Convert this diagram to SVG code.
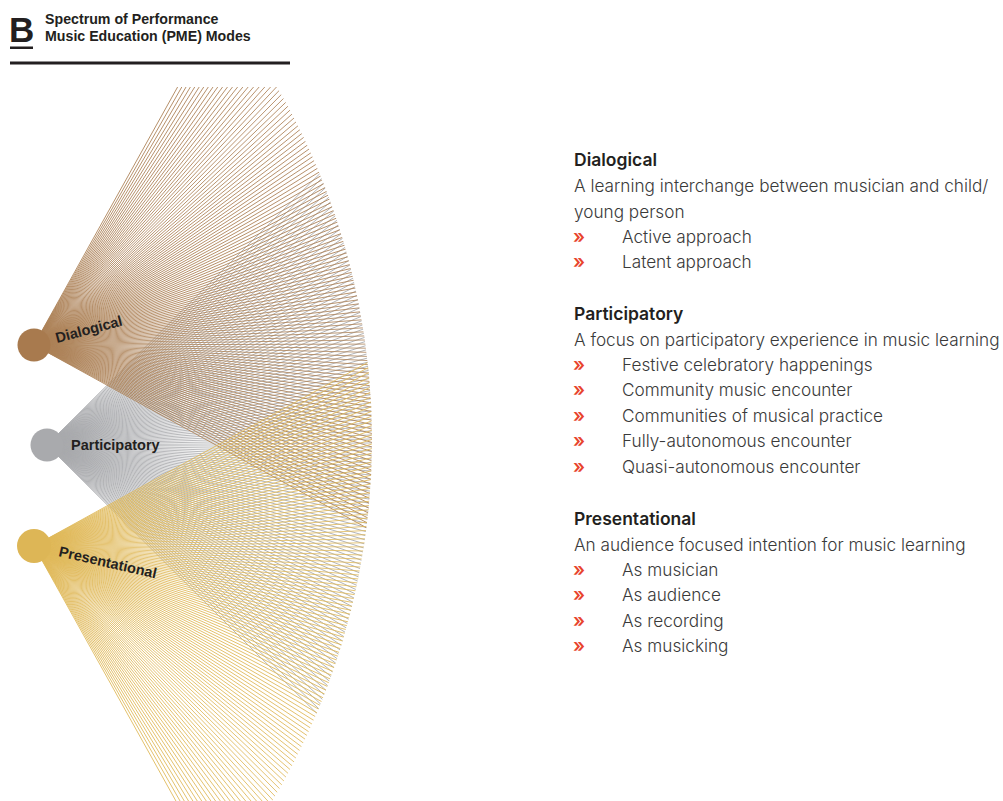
<svg xmlns="http://www.w3.org/2000/svg" xmlns:xlink="http://www.w3.org/1999/xlink" width="1003" height="801" viewBox="0 0 1003 801">
<style>
.title{font-family:"Liberation Sans",Arial,sans-serif;font-weight:bold;font-size:14.2px;fill:#231f20}
.lbl{font-family:"Liberation Sans",Arial,sans-serif;font-weight:bold;font-size:14.5px;fill:#231f20}
.h{font-family:Inter,"Liberation Sans",sans-serif;font-weight:600;font-size:17.5px;fill:#231f20}
.t{font-family:Inter,"Liberation Sans",sans-serif;font-weight:300;font-size:17.2px;fill:#3a3a3a}
.bul{font-family:Inter,"Liberation Sans",sans-serif;font-weight:600;font-size:19px;fill:#e8452e}
.ray{stroke-width:0.8;fill:none}
</style>
<defs>
<line id="r" x1="0" y1="0" x2="520" y2="0"/>
<g id="f2"><use href="#r"/><use href="#r" transform="rotate(0.7063)"/></g>
<g id="f4"><use href="#f2"/><use href="#f2" transform="rotate(1.4126)"/></g>
<g id="f8"><use href="#f4"/><use href="#f4" transform="rotate(2.8252)"/></g>
<g id="f16"><use href="#f8"/><use href="#f8" transform="rotate(5.6504)"/></g>
<g id="f32"><use href="#f16"/><use href="#f16" transform="rotate(11.3008)"/></g>
<g id="f64"><use href="#f32"/><use href="#f32" transform="rotate(22.6016)"/></g>
<g id="fan"><use href="#f64"/><use href="#f64" transform="rotate(45.2031)"/></g>
<clipPath id="arc"><circle cx="-331" cy="440" r="703"/></clipPath>
<clipPath id="box"><rect x="0" y="87" width="1003" height="714"/></clipPath>
</defs>
<rect width="1003" height="801" fill="#ffffff"/>

<g id="header">
<text x="9" y="42" font-family="Liberation Sans,Arial,sans-serif" font-weight="bold" font-size="35" fill="#231f20">B</text>
<rect x="10" y="46.5" width="23" height="2.5" fill="#231f20"/>
<text class="title" x="45" y="24">Spectrum of Performance</text>
<text class="title" x="45" y="41">Music Education (PME) Modes</text>
<rect x="10" y="61.5" width="280" height="3" fill="#231f20"/>
</g>

<g id="connectors" clip-path="url(#box)">
<g clip-path="url(#arc)">
<use href="#fan" class="ray" stroke="#a9aaad" transform="translate(47 445) rotate(-44.85)"/>
<use href="#fan" class="ray" stroke="#ad8258" transform="translate(34 345) rotate(-60.9)"/>
<use href="#fan" class="ray" stroke="#e0b95a" transform="translate(34 546) rotate(-28.8)"/>
</g>
</g>

<g id="node-dialogical">
<circle cx="34" cy="345" r="16.5" fill="#a87a4e"/>
<text class="lbl" transform="translate(57 343) rotate(-15)">Dialogical</text>
</g>
<g id="node-participatory">
<circle cx="47" cy="445" r="16.5" fill="#a9aaad"/>
<text class="lbl" x="71" y="450">Participatory</text>
</g>
<g id="node-presentational">
<circle cx="34" cy="546" r="17" fill="#ddb656"/>
<text class="lbl" transform="translate(58 556) rotate(13)">Presentational</text>
</g>

<g id="legend-dialogical">
<text class="h" x="574" y="166">Dialogical</text>
<text class="t" x="574" y="192">A learning interchange between musician and child/</text>
<text class="t" x="574" y="218">young person</text>
<text class="bul" x="573" y="243">»</text><text class="t" x="622" y="243">Active approach</text>
<text class="bul" x="573" y="268">»</text><text class="t" x="622" y="268">Latent approach</text>
</g>
<g id="legend-participatory">
<text class="h" x="574" y="320">Participatory</text>
<text class="t" x="574" y="346">A focus on participatory experience in music learning</text>
<text class="bul" x="573" y="371">»</text><text class="t" x="622" y="371">Festive celebratory happenings</text>
<text class="bul" x="573" y="396">»</text><text class="t" x="622" y="396">Community music encounter</text>
<text class="bul" x="573" y="422">»</text><text class="t" x="622" y="422">Communities of musical practice</text>
<text class="bul" x="573" y="447">»</text><text class="t" x="622" y="447">Fully-autonomous encounter</text>
<text class="bul" x="573" y="473">»</text><text class="t" x="622" y="473">Quasi-autonomous encounter</text>
</g>
<g id="legend-presentational">
<text class="h" x="574" y="525">Presentational</text>
<text class="t" x="574" y="551">An audience focused intention for music learning</text>
<text class="bul" x="573" y="576">»</text><text class="t" x="622" y="576">As musician</text>
<text class="bul" x="573" y="601">»</text><text class="t" x="622" y="601">As audience</text>
<text class="bul" x="573" y="627">»</text><text class="t" x="622" y="627">As recording</text>
<text class="bul" x="573" y="652">»</text><text class="t" x="622" y="652">As musicking</text>
</g>
</svg>
